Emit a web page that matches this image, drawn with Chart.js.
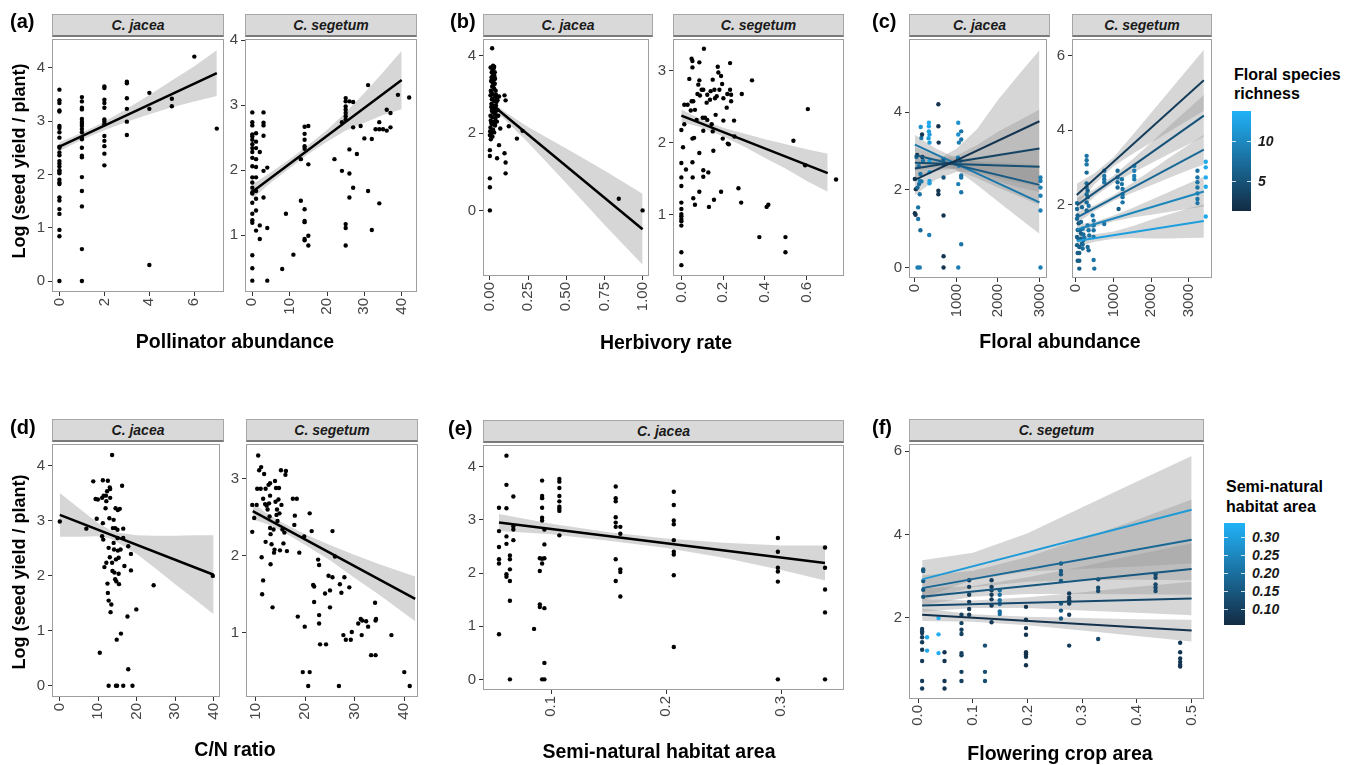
<!DOCTYPE html>
<html lang="en">
<head>
<meta charset="UTF-8">
<title>Seed yield of Centaurea</title>
<script src="https://cdn.jsdelivr.net/npm/chart.js"></script>
<style>
  body { margin: 0; width: 1357px; height: 765px; position: relative; overflow: hidden; background: #fff;
         font-family: "Liberation Sans", Arial, Helvetica, sans-serif; }
  canvas { position: absolute; }
  .strip { position: absolute; height: 23px; box-sizing: border-box; background: #d9d9d9;
           border: 1px solid #a6a6a6; border-bottom: 2px solid #7a7a7a; text-align: center;
           font-style: italic; font-weight: bold; font-size: 14px; line-height: 20px; color: #1a1a1a; }
  .lab { position: absolute; white-space: nowrap; line-height: 1; color: #000; }
  .panel { font-weight: bold; font-size: 20px; }
  .title { font-weight: bold; font-size: 19.5px; }
  .ytitle { font-weight: bold; font-size: 18px; }
  .legt { font-weight: bold; font-size: 16px; }
  .legl { font-weight: bold; font-style: italic; font-size: 14px; color: #1a1a1a; }
  .bar { position: absolute; }
  .tk { position: absolute; height: 1px; width: 4px; background: rgba(255,255,255,0.8); }
</style>
</head>
<body>
<script>
// ---- (a) pollinator abundance ----
const aJacea = [
  [0,3.59],[0,3.39],[0,3.34],[0,3.20],[0,3.18],[0,2.91],[0,2.87],[0,2.79],[0,2.69],[0,2.52],[0,2.50],[0,2.41],
  [0,2.36],[0,2.25],[0,2.20],[0,2.15],[0,2.08],[0,2.05],[0,2.02],[0,1.90],[0,1.85],[0,1.82],[0,1.57],[0,1.51],
  [0,1.35],[0,1.26],[0,0.96],[0,0.84],[0,0],
  [1,3.45],[1,3.37],[1,3.25],[1,3.22],[1,3.04],[1,2.99],[1,2.95],[1,2.91],[1,2.85],[1,2.79],[1,2.69],[1,2.66],
  [1,2.50],[1,2.35],[1,2.32],[1,1.95],[1,1.69],[1,1.40],[1,0.60],[1,0],
  [2,3.65],[2,3.62],[2,3.40],[2,3.34],[2,3.25],[2,3.03],[2,2.99],[2,2.94],[2,2.72],[2,2.63],[2,2.53],[2,2.39],[2,2.17],
  [3,3.74],[3,3.71],[3,3.43],[3,3.23],[3,2.99],[3,2.74],
  [4,3.53],[4,3.23],[4,0.30],[5,3.42],[5,3.28],[6,4.21],[7,2.86]
];
const aJaceaFit = [[0,2.52],[7,3.90]];
const aJaceaBandX = [0,1,2,3,4,5,6,7];
const aJaceaBandLo = [2.44,2.65,2.83,2.99,3.13,3.26,3.37,3.47];
const aJaceaBandHi = [2.60,2.78,2.99,3.23,3.49,3.76,4.03,4.33];

const aSegetum = [
  [0,2.89],[0,2.74],[0,2.69],[0,2.55],[0,2.52],[0,2.47],[0,2.40],[0,2.34],[0,2.28],[0,2.19],[0,2.06],[0,1.89],
  [0,1.81],[0,1.73],[0,1.66],[0,1.64],[0,1.50],[0,1.33],[0,1.23],[0,1.19],[0,0.69],[0,0.49],[0,0.30],
  [1,2.57],[1,2.44],[1,2.34],[1,2.17],[1,2.05],[1,1.89],[1,1.68],[1,1.56],[1,1.38],[1,1.07],
  [2,2.28],[2,1.15],[2,0.94],[3,2.89],[3,2.73],[3,2.69],[3,2.53],[3,1.99],[3,1.58],[4,2.04],[4,1.11],[4,0.30],
  [8,0.48],[9,1.33],[11,0.70],[13,1.53],[13,2.17],
  [14,2.67],[14,2.56],[14,2.47],[14,2.37],[14,2.33],[14,1.40],[14,1.22],[14,1.20],[14,0.94],[14,0.92],
  [15,2.68],[15,2.09],[15,0.99],[15,0.84],[22,2.17],[24,1.99],[24,2.74],
  [25,3.11],[25,3.06],[25,2.98],[25,2.93],[25,2.88],[25,2.83],[25,2.78],[25,1.17],[25,1.11],[25,0.84],
  [26,3.06],[26,2.32],[26,1.95],[26,1.58],[27,3.05],[27,2.66],[27,1.73],[28,2.25],[29,2.68],[30,2.49],
  [31,3.31],[31,1.68],[32,2.48],[32,1.08],[33,2.63],[34,2.74],[34,2.63],[34,1.49],[35,2.63],[36,2.93],
  [36,2.61],[37,2.88],[37,2.66],[39,3.16],[42,3.12]
];
const aSegetumFit = [[0,1.67],[40,3.39]];
const aSegetumBandX = [0,5,10,15,20,25,30,35,40];
const aSegetumBandLo = [1.56,1.81,2.03,2.25,2.44,2.61,2.73,2.85,2.94];
const aSegetumBandHi = [1.78,1.97,2.17,2.39,2.62,2.89,3.19,3.51,3.84];

// ---- (b) herbivory rate ----
const bJacea = [
  [0.015,4.20],[0.021,3.75],[0.026,3.69],[0.017,3.62],[0.032,3.58],[0.021,3.52],[0.011,3.45],[0.026,3.38],
  [0.017,3.32],[0.032,3.28],[0.015,3.21],[0.028,3.15],[0.011,3.06],[0.021,3.00],[0.036,2.95],[0.017,2.89],
  [0.030,2.83],[0.011,2.76],[0.043,2.81],[0.026,2.70],[0.038,2.64],[0.013,2.58],[0.030,2.51],[0.017,2.42],
  [0.043,2.46],[0.006,2.33],[0.026,2.29],[0.015,2.23],[0.032,2.25],[0.004,2.15],[0.021,2.09],[0.011,2.01],
  [0,1.95],[0.017,1.91],[0.006,1.84],[0,1.56],[0,1.41],[0,0.83],[0,0.60],[0,0],
  [0.005,3.70],[0.028,3.72],[0.034,3.41],[0.008,3.35],[0.038,3.10],[0.004,2.98],[0.045,2.90],[0.009,2.68],
  [0.040,2.72],[0.050,2.60],[0.004,2.45],[0.036,2.38],[0.009,2.27],[0.046,2.30],[0.002,2.05],[0.028,2.02],
  [0.008,1.92],[0.019,2.55],[0.023,2.62],[0.034,2.20],[0.013,2.88],[0.040,3.00],[0.024,3.25],[0.006,3.10],
  [0.030,3.48],[0.012,3.58],[0.036,2.55],[0.055,2.45],[0.050,2.85],[0.060,2.95],
  [0.047,1.35],[0.060,1.69],[0.068,2.12],[0.096,2.98],[0.103,2.85],[0.124,2.18],[0.096,1.48],[0.103,1.24],
  [0.103,0.96],[0.177,1.86],[0.214,2.06],[0.844,0.30],[1.0,0]
];
const bJaceaFit = [[0,2.78],[1,-0.49]];
const bJaceaBandX = [0,0.1,0.25,0.5,0.75,1];
const bJaceaBandLo = [2.69,2.35,1.76,0.70,-0.37,-1.41];
const bJaceaBandHi = [2.87,2.55,2.16,1.60,1.03,0.43];

const bSegetum = [
  [0,2.18],[0,1.72],[0,1.52],[0,1.40],[0,1.17],[0,1.08],[0,1.01],[0,0.98],[0,0.94],[0,0.91],[0,0.85],[0,0.48],[0,0.30],
  [0.008,1.94],[0.014,2.26],[0.014,2.53],[0.022,1.63],[0.030,2.53],[0.038,2.89],[0.045,2.45],[0.049,2.58],
  [0.049,3.17],[0.053,3.14],[0.053,3.05],[0.057,2.58],[0.053,2.06],[0.053,1.73],[0.061,2.07],[0.054,1.52],
  [0.057,1.23],[0.065,1.14],[0.065,2.46],[0.073,2.32],[0.077,2.68],[0.081,2.81],[0.086,2.87],[0.086,3.12],
  [0.086,1.86],[0.086,1.32],[0.089,2.66],[0.097,2.74],[0.102,2.35],[0.105,2.74],[0.105,2.17],[0.105,1.62],
  [0.105,1.53],[0.108,3.31],[0.113,2.35],[0.121,2.56],[0.124,2.67],[0.124,2.32],[0.129,1.59],[0.132,1.11],
  [0.137,2.60],[0.140,2.72],[0.145,2.26],[0.150,2.88],[0.150,2.16],[0.153,1.89],[0.156,1.21],[0.158,2.74],
  [0.161,2.62],[0.164,2.39],[0.169,2.65],[0.174,3.06],[0.177,2.98],[0.182,2.74],[0.190,2.93],[0.190,1.32],
  [0.195,2.82],[0.198,2.06],[0.201,2.62],[0.201,2.31],[0.217,2.49],[0.220,2.68],[0.222,1.99],[0.227,1.98],
  [0.233,3.11],[0.233,2.74],[0.238,2.58],[0.238,2.67],[0.252,2.31],[0.254,2.09],[0.273,1.37],[0.289,2.68],
  [0.286,1.17],[0.338,2.87],[0.373,0.69],[0.408,1.11],[0.416,1.14],[0.498,0.69],[0.498,0.48],[0.536,2.03],
  [0.592,1.69],[0.605,2.47],[0.740,1.49]
];
const bSegetumFit = [[0,2.38],[0.7,1.58]];
const bSegetumBandX = [0,0.1,0.2,0.3,0.4,0.5,0.6,0.7];
const bSegetumBandLo = [2.295,2.21,2.09,1.95,1.79,1.64,1.47,1.32];
const bSegetumBandHi = [2.465,2.32,2.21,2.13,2.05,1.98,1.91,1.85];

// ---- (c) floral abundance, colour = floral species richness ----
const cJacea = [
  [0,2.28,2],[0,1.40,2],[16,1.36,2],[24,2.02,2],[39,2.85,7],[55,2.90,2],[63,2.06,7],[79,1.25,8],[79,1.55,8],
  [63,0,9],[118,0,9],[94,2.61,8],[102,2.15,7],[118,1.89,8],[134,0.96,7],[141,3.62,11],[157,3.34,8],[173,3.43,2],
  [181,2.85,2],[196,2.75,8],[134,2.41,8],[118,2.23,10],[157,2.22,8],
  [338,3.73,13],[338,3.64,13],[338,3.51,12],[353,3.43,12],[330,3.33,12],[353,3.22,12],[353,2.75,12],
  [353,2.46,12],[353,2.23,12],[353,2.17,12],[346,0.84,9],
  [566,4.21,2],[566,3.64,2],[573,3.22,2],[566,1.98,2],[566,1.89,2],
  [691,2.79,6],[691,2.66,6],[691,2.32,5],[691,1.34,2],[691,0.29,2],[691,0,2],
  [1045,3.73,11],[1045,3.43,11],[1060,3.22,9],[1116,3.51,8],[1116,3.30,8],[1037,2.83,9],[1100,2.75,8],
  [1060,2.62,9],[1116,2.37,8],[1116,2.32,8],[1045,2.15,9],[1116,1.94,8],[1116,0.60,8],[1045,0,9],
  [3025,2.32,9],[3025,2.23,9],[3025,2.06,9],[3025,1.85,9],[3025,1.47,9],[3025,0,9]
];
const cJaceaFits = [
  [[0,2.26],[3000,3.77]], [[0,2.55],[3000,3.07]], [[0,2.70],[3000,2.60]], [[0,2.90],[3000,2.13]], [[0,3.17],[3000,1.68]]
];
const cJaceaFitRich = [2.0, 3.5, 4.5, 5.6, 8.3];
const cJaceaBandX = [0,500,1000,1500,2000,2500,3000];
const cJaceaBandLo = [
  [1.86,2.26,2.46,2.47,2.22,2.07,1.94],
  [2.30,2.49,2.55,2.46,2.30,2.18,2.07],
  [2.50,2.56,2.55,2.45,2.33,2.22,2.10],
  [2.70,2.64,2.51,2.30,2.06,1.84,1.61],
  [2.92,2.77,2.52,2.13,1.70,1.28,0.87]
];
const cJaceaBandHi = [
  [2.66,2.76,3.06,3.57,4.32,4.97,5.60],
  [2.80,2.79,2.89,3.16,3.50,3.78,4.07],
  [2.90,2.80,2.79,2.85,2.93,3.02,3.10],
  [3.10,2.90,2.77,2.74,2.72,2.68,2.65],
  [3.42,3.07,2.82,2.73,2.66,2.58,2.49]
];

const cSegetum = [
  [27,2.04,7],[27,1.88,7],[44,1.71,6],[27,1.62,7],[71,1.50,5],[44,1.32,6],[27,1.13,6],[71,1.06,6],[27,0.91,6],
  [88,0.86,6],[44,0.70,6],[88,0.70,6],[44,0.49,6],[88,0.49,6],[88,0.28,6],[106,1.31,7],[133,1.22,6],[133,1.08,6],
  [159,0.95,6],[133,1.53,7],[159,1.93,7],[177,1.35,8],[195,1.20,7],[195,1.04,7],[221,1.11,8],[177,0.93,7],[177,0.82,7],
  [283,3.31,8],[283,3.19,8],[283,3.08,8],[283,2.86,7],[283,2.57,7],[283,2.46,7],[310,2.37,6],[283,2.28,7],
  [310,2.20,6],[283,2.06,7],[336,1.97,8],[283,1.84,7],[310,1.44,8],[336,1.31,8],[354,1.17,8],[310,0.86,7],[336,0.77,7],
  [442,1.71,8],[469,1.57,8],[469,1.44,8],[469,1.31,8],[469,1.13,8],[469,0.51,8],[487,0.28,8],
  [752,2.91,8],[752,2.77,8],[752,2.68,8],[752,2.60,8],[752,1.48,8],
  [1106,2.91,7],[1106,2.73,7],[1106,2.60,7],[1106,2.46,7],[1133,1.88,6],[1221,2.68,8],[1221,2.55,8],
  [1239,2.42,8],[1239,2.28,8],[1239,2.20,8],[1239,2.06,8],
  [1549,3.04,9],[1549,2.91,9],[1549,2.77,9],[1549,2.68,9],
  [3230,2.91,8],[3230,2.73,8],[3230,2.60,8],[3230,2.46,8],[3230,2.30,8],[3230,2.15,8],[3230,2.04,8],
  [3451,3.15,13],[3451,3.00,13],[3451,2.73,13],[3451,2.48,13],[3451,1.68,13]
];
const cSegetumFits = [
  [[20,2.26],[3400,5.34]], [[20,1.98],[3400,4.39]], [[20,1.65],[3400,3.48]], [[20,1.33],[3400,2.35]], [[20,1.02],[3400,1.56]]
];
const cSegetumFitRich = [2.8, 4.9, 6.9, 9.7, 12.0];
const cSegetumBandX = [20,500,1000,1500,2000,2500,3000,3400];
const cSegetumBandLo = [
  [1.96,2.55,3.03,3.36,3.67,3.97,4.28,4.52],
  [1.78,2.22,2.58,2.85,3.11,3.37,3.62,3.83],
  [1.50,1.83,2.10,2.32,2.52,2.73,2.93,3.08],
  [1.20,1.40,1.55,1.65,1.73,1.81,1.89,1.95],
  [0.87,1.00,1.08,1.10,1.09,1.09,1.10,1.11]
];
const cSegetumBandHi = [
  [2.56,2.85,3.27,3.86,4.47,5.07,5.68,6.16],
  [2.18,2.42,2.78,3.21,3.67,4.13,4.58,4.95],
  [1.80,1.99,2.26,2.58,2.92,3.27,3.61,3.88],
  [1.46,1.54,1.71,1.91,2.13,2.35,2.57,2.75],
  [1.17,1.20,1.28,1.42,1.59,1.75,1.90,2.01]
];
const richRange = [1.1, 13.9];
const richTicks = [5, 10];

// ---- (d) C/N ratio ----
const dJacea = [
  [0,2.99],[6.9,2.86],[8.7,3.72],[9.3,3.40],[9.9,3.39],[9.6,3.04],[10.4,0.60],[11.2,3.74],[11,3.42],[11.4,3.46],
  [11.2,2.96],[11,2.72],[11.3,2.66],[11.6,2.16],[11.9,3.23],[12,3.46],[12.1,3.36],[12.3,3.54],[12.5,3.73],
  [12.1,2.24],[12.4,1.86],[12.5,1.69],[12.7,1.55],[13,3.61],[13.1,3.58],[13.1,3.42],[12.9,3.05],[12.7,2.51],
  [13,2.34],[13.2,1.34],[13.4,1.48],[12.7,0],[13.6,4.2],[13.6,2.24],[13.7,2.09],[13.8,2.87],[14,3.02],[14,2.60],
  [14.1,2.48],[14.2,2.06],[14.4,1.94],[14.4,2.87],[14.6,2.30],[14.5,3.23],[14.7,1.90],[14.8,0.84],[14.6,0],
  [14.9,0],[15,2.84],[15,2.69],[15.1,2.46],[15.1,3.20],[15.3,2.33],[15.3,2.04],[15.4,1.85],[15.6,3.22],
  [15.8,2.48],[15.9,0.95],[16.2,3.64],[16.5,2.86],[16.5,2.69],[16.5,0],[16.8,2.18],[17.6,1.26],[17.8,2.54],
  [17.8,0.30],[18.5,2.40],[18.5,2.10],[18.9,0],[19.9,1.39],[24.4,1.83],[39.8,2.0]
];
const dJaceaFit = [[0,3.11],[40,2.02]];
const dJaceaBandX = [0,5,10,13,15,20,25,30,35,40];
const dJaceaBandLo = [2.71,2.71,2.72,2.68,2.61,2.40,2.13,1.85,1.58,1.30];
const dJaceaBandHi = [3.51,3.23,2.96,2.84,2.79,2.74,2.73,2.73,2.74,2.74];

const dSegetum = [
  [9.3,2.66],[9.3,2.31],[9.7,2.49],[10.2,2.66],[10.3,2.87],[10.5,3.30],[10.7,3.11],[11.1,3.15],[11,2.87],
  [11.2,1.98],[11.3,1.50],[11.5,1.68],[11.7,3.06],[11.5,2.74],[11.9,2.67],[12,2.87],[12,2.18],[12.2,2.65],
  [12.4,2.60],[12.6,2.92],[12.7,2.68],[12.8,2.51],[12.9,2.94],[12.9,2.78],[12.9,2.36],[13,2.28],[13,1.89],
  [13.2,2.15],[13.4,1.33],[13.6,2.34],[13.7,2.04],[13.8,2.08],[13.9,2.97],[14,2.70],[14.1,2.88],[14.2,2.53],
  [14.3,2.60],[14.4,2.45],[14.6,2.73],[14.7,2.88],[14.8,2.55],[14.9,2.07],[15.1,3.11],[15.2,2.66],[15.4,2.34],
  [15.6,2.16],[15.8,2.30],[16,3.05],[16.1,3.10],[16.3,2.06],[17.5,2.74],[17.8,2.40],[17.9,2.52],[18.3,2.74],
  [18.5,1.21],[18.8,2.04],[19.5,0.49],[19.8,2.25],[19.9,1.08],[20.6,0.31],[20.9,0.49],[20.9,2.55],[21.3,2.32],
  [21.6,1.62],[21.8,1.60],[21.8,1.40],[22.6,1.95],[22.8,1.88],[22.8,1.23],[22.8,1.12],[23,0.85],[24,1.51],
  [24.2,0.85],[24.7,1.74],[25,1.55],[25,1.33],[25.5,2.32],[25.5,1.72],[26,1.99],[26.8,0.31],[27,1.63],
  [27.3,1.52],[27.9,1.72],[27.7,0.97],[28.2,0.91],[28.9,1.59],[29.2,0.91],[29.4,1.01],[30.7,1.12],[31.2,1.18],
  [31.4,0.97],[31.5,1.16],[32.3,1.15],[32.7,1.08],[33.3,0.71],[34.1,1.39],[34.2,1.16],[34.2,0.71],[34.3,1.18],
  [37.4,0.97],[40,0.49],[41.1,0.31]
];
const dSegetumFit = [[9.4,2.58],[42.2,1.44]];
const dSegetumBandX = [9.4,12,15,20,25,30,35,42.2];
const dSegetumBandLo = [2.47,2.42,2.33,2.14,1.94,1.71,1.49,1.15];
const dSegetumBandHi = [2.69,2.56,2.44,2.28,2.14,2.01,1.89,1.73];

// ---- (e) semi-natural habitat area ----
const eJacea = [
  [0.0545,3.23],[0.0545,2.79],[0.0545,2.49],[0.0545,2.26],[0.0545,2.18],[0.0545,0.85],
  [0.061,4.21],[0.061,3.66],[0.061,3.22],[0.061,2.69],[0.061,2.55],[0.061,1.98],[0.061,1.93],
  [0.064,2.33],[0.064,2.26],[0.064,2.07],[0.064,1.85],[0.064,1.48],[0.064,0],
  [0.067,3.44],[0.067,2.88],[0.067,2.82],[0.067,2.62],[0.085,0.95],
  [0.09,2.28],[0.09,2.04],[0.09,1.41],[0.09,1.36],
  [0.092,3.74],[0.092,3.45],[0.092,3.41],[0.092,3.23],[0.092,3.04],[0.092,2.99],[0.092,2.27],[0.092,2.18],[0.092,0],
  [0.094,2.82],[0.094,2.54],[0.094,2.28],[0.094,1.34],[0.094,0.31],[0.094,0],
  [0.107,3.77],[0.107,3.72],[0.107,3.60],[0.107,3.45],[0.107,3.35],[0.107,3.25],[0.107,3.21],[0.107,3.17],[0.107,2.71],
  [0.156,3.63],[0.156,3.41],[0.156,3.35],[0.156,3.05],[0.156,2.95],[0.156,2.87],[0.156,2.26],[0.156,1.85],
  [0.160,2.87],[0.160,2.74],[0.160,2.07],[0.160,2.02],[0.160,1.56],
  [0.2065,3.53],[0.2065,3.28],[0.2065,2.99],[0.2065,2.92],[0.2065,2.62],[0.2065,2.40],[0.2065,2.35],[0.2065,1.96],[0.2065,0.61],
  [0.297,2.66],[0.297,2.40],[0.297,2.10],[0.297,2.03],[0.297,1.84],[0.297,0],
  [0.338,2.48],[0.338,2.10],[0.338,1.69],[0.338,1.26],[0.338,0]
];
const eJaceaFit = [[0.0545,2.95],[0.338,2.19]];
const eJaceaBandX = [0.0545,0.1,0.15,0.2,0.25,0.3,0.338];
const eJaceaBandLo = [2.79,2.73,2.61,2.47,2.29,2.06,1.86];
const eJaceaBandHi = [3.11,2.93,2.77,2.65,2.57,2.52,2.52];

// ---- (f) flowering crop area, colour = semi-natural habitat area ----
const fSegetum = [
  [0.009,3.16,0.15],[0.009,3.12,0.15],[0.009,2.88,0.15],[0.009,2.67,0.15],[0.009,2.50,0.15],
  [0.007,1.73,0.09],[0.007,1.67,0.09],[0.007,1.63,0.09],[0.007,1.53,0.09],[0.007,1.41,0.09],[0.007,1.23,0.09],
  [0.007,0.96,0.09],[0.007,0.48,0.09],[0.007,0.30,0.09],
  [0.016,1.53,0.32],[0.016,1.21,0.32],[0.037,1.99,0.33],[0.037,1.60,0.33],[0.037,1.15,0.33],
  [0.048,1.17,0.08],[0.048,0.96,0.08],[0.048,0.48,0.08],[0.048,0.30,0.08],
  [0.079,2.07,0.10],[0.079,1.87,0.10],[0.079,1.71,0.10],[0.079,1.61,0.10],[0.079,1.15,0.10],[0.079,1.10,0.10],
  [0.079,0.70,0.10],[0.079,0.48,0.10],
  [0.093,2.90,0.09],[0.093,2.74,0.09],[0.093,2.55,0.09],[0.093,2.38,0.09],[0.093,2.21,0.09],[0.093,2.07,0.09],
  [0.122,1.33,0.13],[0.122,0.70,0.13],[0.122,0.48,0.13],
  [0.134,2.90,0.09],[0.134,2.74,0.09],[0.134,2.66,0.09],[0.134,2.55,0.09],[0.134,2.44,0.09],[0.134,2.29,0.09],[0.134,1.89,0.09],
  [0.149,2.66,0.20],[0.149,2.55,0.20],[0.149,2.42,0.20],[0.149,2.33,0.20],[0.149,2.15,0.20],[0.149,2.09,0.20],
  [0.197,2.26,0.07],[0.197,1.95,0.07],[0.197,1.75,0.07],[0.197,1.59,0.07],[0.197,1.17,0.07],[0.197,1.12,0.07],
  [0.197,1.06,0.07],[0.197,0.86,0.07],
  [0.261,3.30,0.15],[0.261,3.12,0.15],[0.261,3.04,0.15],[0.261,2.88,0.15],[0.261,2.34,0.15],[0.261,2.17,0.15],[0.261,1.98,0.15],
  [0.276,2.58,0.09],[0.276,2.48,0.09],[0.276,2.42,0.09],[0.276,2.34,0.09],[0.276,2.07,0.09],[0.276,1.33,0.09],
  [0.329,2.92,0.12],[0.329,2.72,0.12],[0.329,2.64,0.12],[0.329,1.49,0.12],
  [0.434,3.04,0.12],[0.434,2.96,0.12],[0.434,2.80,0.12],[0.434,2.72,0.12],[0.434,2.64,0.12],
  [0.479,1.40,0.08],[0.479,1.17,0.08],[0.479,1.02,0.08],[0.479,0.94,0.08],[0.479,0.87,0.08],[0.479,0.83,0.08]
];
const fSegetumFits = [
  [[0.007,2.92],[0.5,4.59]], [[0.007,2.71],[0.5,3.87]], [[0.007,2.50],[0.5,3.17]], [[0.007,2.29],[0.5,2.46]], [[0.007,2.07],[0.5,1.69]]
];
const fSegetumFitArea = [0.289, 0.184, 0.15, 0.118, 0.07];
const fSegetumBandX = [0.007,0.1,0.2,0.3,0.4,0.5];
const fSegetumBandLo = [
  [2.46,2.91,3.11,3.17,3.23,3.30],
  [2.41,2.73,2.86,2.90,2.91,2.90],
  [2.30,2.50,2.57,2.57,2.56,2.55],
  [2.14,2.23,2.23,2.17,2.12,2.06],
  [1.92,1.90,1.82,1.69,1.56,1.43]
];
const fSegetumBandHi = [
  [3.38,3.56,4.03,4.65,5.27,5.88],
  [3.01,3.13,3.46,3.90,4.35,4.84],
  [2.70,2.76,2.97,3.23,3.52,3.79],
  [2.44,2.41,2.49,2.61,2.74,2.86],
  [2.22,2.08,2.02,1.99,1.96,1.95]
];
const areaRange = [0.056, 0.34];
const areaTicks = [0.10, 0.15, 0.20, 0.25, 0.30];

// ---------------------------------------------------------------
const FONT = "'Liberation Sans', Arial, Helvetica, sans-serif";
Chart.defaults.font.family = FONT;
const LOW = [19, 43, 67], HIGH = [33, 178, 248];

function blue(v, range) {
  const t = Math.max(0, Math.min(1, (v - range[0]) / (range[1] - range[0])));
  return 'rgb(' + LOW.map((l, i) => Math.round(l + (HIGH[i] - l) * t)).join(',') + ')';
}

// grey panel frame on top of everything
const framePlugin = {
  id: 'frame',
  afterDatasetsDraw(chart) {
    const a = chart.chartArea, ctx = chart.ctx;
    ctx.save();
    ctx.strokeStyle = '#9e9e9e';
    ctx.lineWidth = 1;
    ctx.strokeRect(Math.round(a.left) + 0.5, Math.round(a.top) + 0.5,
                   Math.round(a.right - a.left) - 1, Math.round(a.bottom - a.top) - 1);
    ctx.restore();
  }
};

function bands(xs, los, his) {
  return los.map((lo, i) => ({ x: xs, lo: lo, hi: his[i] }));
}

function facet(cfg) {
  const padL = 40, padT = 10, padR = 10, padB = 50;
  const [x0, y0, x1, y1] = cfg.box;
  const W = x1 - x0 + padL + padR, H = y1 - y0 + padT + padB;
  const cv = document.createElement('canvas');
  cv.width = W; cv.height = H;
  cv.style.cssText = `left:${x0 - padL}px;top:${y0 - padT}px;width:${W}px;height:${H}px`;
  document.body.appendChild(cv);

  // draw order: bands (back), points, fitted lines (front)
  const sets = [];
  cfg.fits.forEach((f, i) => sets.push({
    type: 'line', data: f.map(p => ({ x: p[0], y: p[1] })), borderColor: cfg.fitCol[i],
    borderWidth: cfg.lw, pointRadius: 0, fill: false, tension: 0, order: 0
  }));
  cfg.bands.forEach(b => {
    sets.push({ type: 'line', data: b.x.map((x, j) => ({ x: x, y: b.hi[j] })), borderWidth: 0,
      borderColor: 'rgba(0,0,0,0)', pointRadius: 0, backgroundColor: 'rgba(153,153,153,0.4)', fill: '+1', order: 2 });
    sets.push({ type: 'line', data: b.x.map((x, j) => ({ x: x, y: b.lo[j] })), borderWidth: 0,
      borderColor: 'rgba(0,0,0,0)', pointRadius: 0, fill: false, order: 2 });
  });
  sets.push({
    type: 'scatter', data: cfg.pts.map(p => ({ x: p[0], y: p[1] })), pointRadius: 2.2, pointBorderWidth: 0,
    pointBackgroundColor: cfg.pts.map(p => cfg.color ? cfg.color(p[2]) : '#000'), order: 1
  });

  const axisTicks = (vals, labs) => ({
    afterBuildTicks: s => { s.ticks = vals.map(v => ({ value: v })); },
    ticks: { autoSkip: false, color: '#444', font: { size: 15 }, padding: 2,
             callback: (v, i) => labs ? labs[i] : String(v) },
    grid: { display: true, drawOnChartArea: false, drawTicks: true, tickLength: 4, color: '#333' },
    border: { display: false }
  });
  const xs = axisTicks(cfg.xt, cfg.xl);
  Object.assign(xs, { type: 'linear', min: cfg.xr[0], max: cfg.xr[1], afterFit: s => { s.height = padB; } });
  xs.ticks.minRotation = 90; xs.ticks.maxRotation = 90;
  const ys = axisTicks(cfg.yt, null);
  Object.assign(ys, { type: 'linear', min: cfg.yr[0], max: cfg.yr[1], afterFit: s => { s.width = padL; } });
  ys.ticks.padding = 3;

  new Chart(cv, {
    type: 'scatter',
    data: { datasets: sets },
    options: {
      responsive: false, animation: false, events: [],
      layout: { padding: { top: padT, right: padR, left: 0, bottom: 0 } },
      plugins: { legend: { display: false }, tooltip: { enabled: false } },
      scales: { x: xs, y: ys }
    },
    plugins: [framePlugin]
  });

  const s = document.createElement('div');
  s.className = 'strip';
  s.textContent = cfg.strip;
  s.style.left = x0 + 'px'; s.style.top = (y0 - 23) + 'px'; s.style.width = (x1 - x0) + 'px';
  document.body.appendChild(s);
}

function put(txt, x, y, cls, mode) {
  const d = document.createElement('div');
  d.className = 'lab ' + cls;
  d.textContent = txt;
  d.style.left = x + 'px'; d.style.top = y + 'px';
  if (mode === 'rot') d.style.transform = 'translate(-50%,-50%) rotate(-90deg)';
  else if (mode === 'left') d.style.transform = 'translate(0,-50%)';
  else d.style.transform = 'translate(-50%,-50%)';
  document.body.appendChild(d);
}

function colorbar(left, top, w, h, range, ticks, labs) {
  const bar = document.createElement('div');
  bar.className = 'bar';
  bar.style.cssText = `left:${left}px;top:${top}px;width:${w}px;height:${h}px;` +
    `background:linear-gradient(to top, rgb(${LOW}), rgb(${HIGH}))`;
  document.body.appendChild(bar);
  ticks.forEach((v, i) => {
    const y = top + h * (1 - (v - range[0]) / (range[1] - range[0]));
    [left, left + w - 4].forEach(x => {
      const t = document.createElement('div');
      t.className = 'tk';
      t.style.left = x + 'px'; t.style.top = Math.round(y) + 'px';
      document.body.appendChild(t);
    });
    put(labs[i], left + w + 7, y, 'legl', 'left');
  });
}

const black = ['#000'];
const richCol = v => blue(v, richRange);
const areaCol = v => blue(v, areaRange);

// row 1
facet({ box: [52, 37, 224, 292], xr: [-0.33, 7.32], yr: [-0.205, 4.54], xt: [0, 2, 4, 6], yt: [0, 1, 2, 3, 4],
  pts: aJacea, fits: [aJaceaFit], fitCol: black, lw: 2.5, strip: 'C. jacea',
  bands: bands(aJaceaBandX, [aJaceaBandLo], [aJaceaBandHi]) });
facet({ box: [245, 37, 417, 292], xr: [-1.96, 44.1], yr: [0.125, 4.02], xt: [0, 10, 20, 30, 40], yt: [1, 2, 3, 4],
  pts: aSegetum, fits: [aSegetumFit], fitCol: black, lw: 2.5, strip: 'C. segetum',
  bands: bands(aSegetumBandX, [aSegetumBandLo], [aSegetumBandHi]) });
facet({ box: [483, 37, 653, 276], xr: [-0.045, 1.045], yr: [-1.70, 4.44], xt: [0, 0.25, 0.5, 0.75, 1],
  xl: ['0.00', '0.25', '0.50', '0.75', '1.00'], yt: [0, 2, 4],
  pts: bJacea, fits: [bJaceaFit], fitCol: black, lw: 2.5, strip: 'C. jacea',
  bands: bands(bJaceaBandX, [bJaceaBandLo], [bJaceaBandHi]) });
facet({ box: [673, 37, 844, 276], xr: [-0.04, 0.778], yr: [0.149, 3.445], xt: [0, 0.2, 0.4, 0.6],
  xl: ['0.0', '0.2', '0.4', '0.6'], yt: [1, 2, 3],
  pts: bSegetum, fits: [bSegetumFit], fitCol: black, lw: 2.5, strip: 'C. segetum',
  bands: bands(bSegetumBandX, [bSegetumBandLo], [bSegetumBandHi]) });
facet({ box: [909, 37, 1050, 278], xr: [-141, 3184], yr: [-0.27, 5.89], xt: [0, 1000, 2000, 3000], yt: [0, 2, 4],
  pts: cJacea, color: richCol, fits: cJaceaFits, fitCol: cJaceaFitRich.map(richCol), lw: 2, strip: 'C. jacea',
  bands: bands(cJaceaBandX, cJaceaBandLo, cJaceaBandHi) });
facet({ box: [1072, 37, 1212, 278], xr: [-106, 3617], yr: [0.027, 6.45], xt: [0, 1000, 2000, 3000], yt: [2, 4, 6],
  pts: cSegetum, color: richCol, fits: cSegetumFits, fitCol: cSegetumFitRich.map(richCol), lw: 2, strip: 'C. segetum',
  bands: bands(cSegetumBandX, cSegetumBandLo, cSegetumBandHi) });

// row 2
facet({ box: [52, 442, 224, 697], xr: [-2.03, 41.7], yr: [-0.204, 4.40], xt: [0, 10, 20, 30, 40], yt: [0, 1, 2, 3, 4],
  pts: dJacea, fits: [dJaceaFit], fitCol: black, lw: 2.5, strip: 'C. jacea',
  bands: bands(dJaceaBandX, [dJaceaBandLo], [dJaceaBandHi]) });
facet({ box: [246, 442, 418, 697], xr: [8.04, 42.77], yr: [0.167, 3.45], xt: [10, 20, 30, 40], yt: [1, 2, 3],
  pts: dSegetum, fits: [dSegetumFit], fitCol: black, lw: 2.5, strip: 'C. segetum',
  bands: bands(dSegetumBandX, [dSegetumBandLo], [dSegetumBandHi]) });
facet({ box: [483, 443, 844, 690], xr: [0.0406, 0.3545], yr: [-0.2, 4.41], xt: [0.1, 0.2, 0.3], yt: [0, 1, 2, 3, 4],
  pts: eJacea, fits: [eJaceaFit], fitCol: black, lw: 2.5, strip: 'C. jacea',
  bands: bands(eJaceaBandX, [eJaceaBandLo], [eJaceaBandHi]) });
facet({ box: [909, 442, 1204, 699], xr: [-0.017, 0.5226], yr: [0.048, 6.17], xt: [0, 0.1, 0.2, 0.3, 0.4, 0.5],
  xl: ['0.0', '0.1', '0.2', '0.3', '0.4', '0.5'], yt: [2, 4, 6],
  pts: fSegetum, color: areaCol, fits: fSegetumFits, fitCol: fSegetumFitArea.map(areaCol), lw: 2, strip: 'C. segetum',
  bands: bands(fSegetumBandX, fSegetumBandLo, fSegetumBandHi) });

// panel letters, axis titles
put('(a)', 10, 21, 'panel', 'left');
put('(b)', 450, 21, 'panel', 'left');
put('(c)', 872, 21, 'panel', 'left');
put('(d)', 10, 427, 'panel', 'left');
put('(e)', 448, 428, 'panel', 'left');
put('(f)', 872, 427, 'panel', 'left');

put('Pollinator abundance', 235, 342, 'title');
put('Herbivory rate', 666, 343, 'title');
put('Floral abundance', 1060, 342, 'title');
put('C/N ratio', 235, 750, 'title');
put('Semi-natural habitat area', 659, 752, 'title');
put('Flowering crop area', 1060, 754, 'title');

put('Log (seed yield / plant)', 19, 161, 'ytitle', 'rot');
put('Log (seed yield / plant)', 19, 572, 'ytitle', 'rot');

// colour legends
put('Floral species', 1234, 75, 'legt', 'left');
put('richness', 1234, 94, 'legt', 'left');
colorbar(1232, 111, 19, 100, richRange, richTicks, richTicks.map(String));

put('Semi-natural', 1226, 487, 'legt', 'left');
put('habitat area', 1226, 507, 'legt', 'left');
colorbar(1224, 523, 21, 102, areaRange, areaTicks, areaTicks.map(v => v.toFixed(2)));
</script>
</body>
</html>
